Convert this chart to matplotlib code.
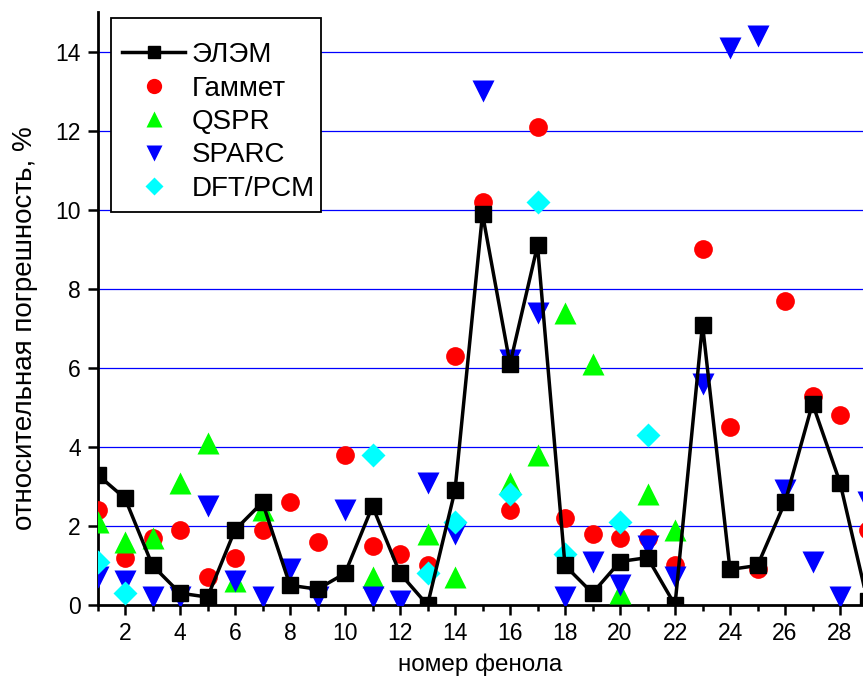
import numpy as np
import matplotlib
matplotlib.use("Agg")
import matplotlib.pyplot as plt
from matplotlib.patches import Rectangle
from matplotlib.ticker import MultipleLocator

plt.rcParams['font.family'] = ['Liberation Sans', 'DejaVu Sans']

nan = np.nan
phenol = np.arange(1, 30)

elem = [3.3, 2.7, 1.0, 0.3, 0.2, 1.9, 2.6, 0.5, 0.4, 0.8, 2.5, 0.8, 0.0, 2.9, 9.9,
        6.1, 9.1, 1.0, 0.3, 1.1, 1.2, 0.0, 7.1, 0.9, 1.0, 2.6, 5.1, 3.1, 0.1]
gammet = [2.4, 1.2, 1.7, 1.9, 0.7, 1.2, 1.9, 2.6, 1.6, 3.8, 1.5, 1.3, 1.0, 6.3, 10.2,
          2.4, 12.1, 2.2, 1.8, 1.7, 1.7, 1.0, 9.0, 4.5, 0.9, 7.7, 5.3, 4.8, 1.9]
qspr = [2.1, 1.6, 1.7, 3.1, 4.1, 0.6, 2.4, nan, nan, nan, 0.7, nan, 1.8, 0.7, nan,
        3.1, 3.8, 7.4, 6.1, 0.3, 2.8, 1.9, nan, nan, nan, nan, nan, nan, nan]
sparc = [0.7, 0.6, 0.2, 0.2, 2.5, 0.6, 0.2, 0.9, 0.2, 2.4, 0.2, 0.1, 3.1, 1.8, 13.0,
         6.2, 7.4, 0.2, 1.1, 0.5, 1.5, 0.7, 5.6, 14.1, 14.4, 2.9, 1.1, 0.2, 2.6]
dft = [1.1, 0.3, nan, nan, nan, nan, nan, nan, nan, nan, 3.8, nan, 0.8, 2.1, nan,
       2.8, 10.2, 1.3, nan, 2.1, 4.3, nan, nan, nan, nan, nan, nan, nan, nan]

W, H = 863, 682
fig = plt.figure(figsize=(W / 100, H / 100), dpi=100)
ax = fig.add_axes([97.5 / W, 77 / H, (W - 97.5) / W, 593 / H])

for yg in range(2, 16, 2):
    ax.axhline(yg, color='#0000ff', lw=0.9, zorder=0)

ax.plot(phenol, elem, '-s', color='black', lw=2.5, ms=12, label='ЭЛЭМ', zorder=5)
ax.plot(phenol, gammet, 'o', color='red', ms=13.5, mec='none', label='Гаммет', zorder=3)
ax.plot(phenol, qspr, '^', color='#00ff00', ms=16, mec='none', label='QSPR', zorder=3)
ax.plot(phenol, sparc, 'v', color='#0000ff', ms=16, mec='none', label='SPARC', zorder=4)
ax.plot(phenol, dft, 'D', color='cyan', ms=12, mec='none', label='DFT/PCM', zorder=4)

ax.set_xlim(1, 1 + (W - 97.5) / 27.5)
ax.set_ylim(0, 15.01)
ax.xaxis.set_major_locator(MultipleLocator(2))
ax.xaxis.set_minor_locator(MultipleLocator(1))
ax.yaxis.set_major_locator(MultipleLocator(2))
ax.tick_params(axis='both', which='major', direction='out', length=7, width=1.8,
               labelsize=16.5, pad=5)
ax.tick_params(axis='x', which='minor', direction='out', length=4, width=1.8)
for side in ('top', 'right'):
    ax.spines[side].set_visible(False)
for side in ('left', 'bottom'):
    ax.spines[side].set_linewidth(2)

ax.set_xlabel('номер фенола', fontsize=17.5, labelpad=6)
ax.set_ylabel('относительная погрешность, %', fontsize=20)
ax.yaxis.set_label_coords(-0.078, 0.467)

# legend box drawn separately so the padding can be uneven
box = Rectangle((111 / W, 1 - 212 / H), 210 / W, 194 / H, transform=fig.transFigure,
                facecolor='white', edgecolor='black', lw=1.3, zorder=6, clip_on=False)
ax.add_patch(box)
leg = ax.legend(loc='upper left', bbox_to_anchor=(122 / W, 1 - 42 / H),
                bbox_transform=fig.transFigure, fontsize=20, frameon=False,
                handlelength=2.27, labelspacing=0.27, borderpad=0,
                handletextpad=0.25, borderaxespad=0)
leg.set_zorder(7)
leg.legend_handles[0].set_markersize(8.5)
leg.legend_handles[1].set_markersize(11)
leg.legend_handles[2].set_markersize(11)
leg.legend_handles[3].set_markersize(11)
leg.legend_handles[4].set_markersize(9)

fig.savefig('out.png', dpi=100)
